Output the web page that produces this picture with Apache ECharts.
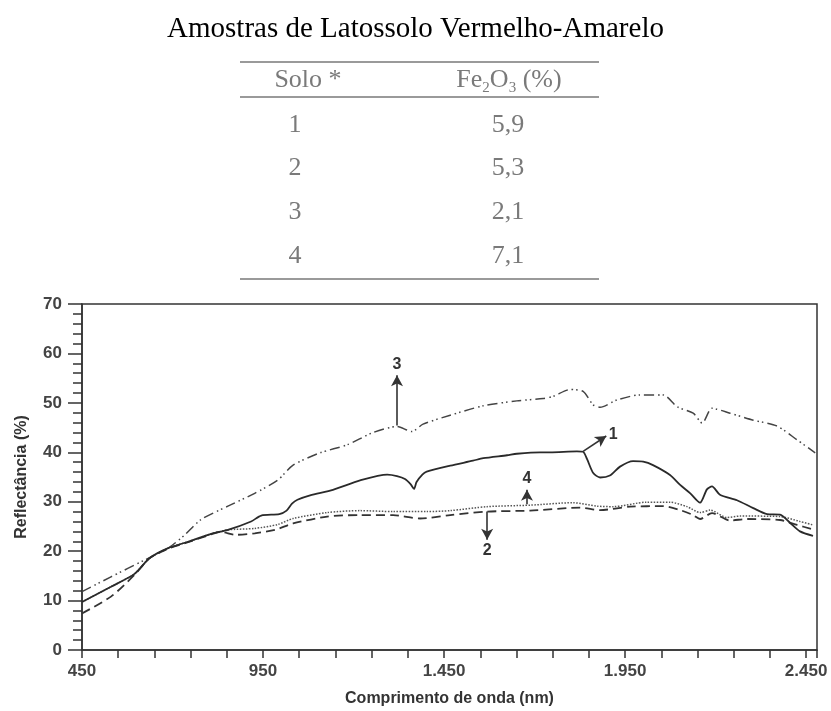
<!DOCTYPE html>
<html>
<head>
<meta charset="utf-8">
<script src="https://cdn.jsdelivr.net/npm/echarts@6/dist/echarts.min.js"></script>
<style>
html,body{margin:0;padding:0;background:#fff;}
#chart{width:831px;height:711px;}
</style>
</head>
<body>
<div id="chart"></div>
<script>
// ---- Data ----
const chartTitle = 'Amostras de Latossolo Vermelho-Amarelo';
const tableSolos = ['1', '2', '3', '4'];
const tableFe2O3 = ['5,9', '5,3', '2,1', '7,1'];

const xLabels = [450, 950, 1450, 1950, 2450];

// Solo 1 (solid)
const wl1 = [450,530,595,637,688,743,807,853,917,945,995,1015,1030,1045,1080,1143,1218,1293,1320,1342,1358,1367,1374,1390,1402,1467,1530,1558,1624,1651,1715,1743,1817,1834,1845,1862,1881,1908,1936,1972,2000,2027,2074,2102,2130,2157,2176,2190,2212,2259,2304,2342,2378,2406,2433,2469];
const refl1 = [9.7,12.8,15.4,18.6,20.6,21.9,23.5,24.3,26.0,27.2,27.5,28.2,29.6,30.4,31.3,32.4,34.3,35.5,35.2,34.6,33.5,32.6,34.0,35.5,36.1,37.3,38.3,38.8,39.4,39.7,40.0,40.0,40.2,40.1,38.6,35.8,34.9,35.3,37.1,38.2,38.1,37.4,35.4,33.4,31.7,29.8,32.5,33.1,31.4,30.3,28.7,27.5,27.4,25.7,24.0,23.1];

// Solo 2 (dashed)
const wl2 = [450,530,595,637,688,743,807,834,873,927,983,1033,1127,1218,1309,1384,1467,1569,1688,1826,1881,1964,2055,2102,2138,2157,2190,2240,2287,2378,2425,2469];
const refl2 = [7.4,10.8,15.2,18.6,20.5,21.8,23.4,23.9,23.3,23.6,24.3,25.6,27.0,27.3,27.3,26.6,27.3,28.0,28.2,28.8,28.3,29.0,29.1,28.3,27.3,26.5,27.7,26.2,26.5,26.3,25.3,24.4];

// Solo 3 (dash-dot-dot)
const wl3 = [450,530,623,688,734,779,853,927,991,1033,1108,1182,1254,1320,1361,1392,1467,1558,1651,1724,1751,1798,1834,1862,1881,1928,1991,2055,2094,2138,2163,2190,2240,2304,2370,2425,2475];
const refl3 = [11.8,14.8,18.2,20.6,23.3,26.4,29.1,31.7,34.4,37.4,39.9,41.5,44.0,45.2,44.2,45.7,47.5,49.4,50.4,50.9,51.3,52.7,52.3,49.6,49.1,50.6,51.6,51.6,49.2,47.9,45.9,48.9,47.9,46.5,45.3,42.5,39.9];

// Solo 4 (dotted)
const wl4 = [450,530,595,637,688,743,807,853,927,991,1033,1127,1218,1309,1403,1467,1569,1688,1806,1873,1917,2009,2074,2121,2157,2185,2231,2268,2378,2433,2469];
const refl4 = [9.7,12.8,15.4,18.6,20.6,21.9,23.5,24.3,24.6,25.4,26.6,27.8,28.2,28.0,28.0,28.2,29.0,29.3,29.8,29.1,29.0,29.9,29.9,29.0,27.8,28.3,26.8,27.1,27.0,26.0,25.3];

// Arrow annotations
const arrowLabels = ['1', '2', '3', '4'];
const arrowFromWl = [1834, 1569, 1320, 1679];
const arrowFromRefl = [40.2, 28.0, 45.4, 29.5];
const arrowToWl = [1898, 1569, 1320, 1679];
const arrowToRefl = [43.3, 22.3, 55.6, 32.4];

// ---- Build ----
const X0 = 450; // axis origin (ticks counted from here)
function fmtThousands(n) {
  return String(n).replace(/\B(?=(\d{3})+(?!\d))/g, '.');
}
function pairs(wl, r) { return wl.map((w, i) => [w - X0, r[i]]); }
function arrow(i) {
  return {
    silent: true,
    symbol: ['none', 'arrow'],
    symbolSize: [9, 11],
    animation: false,
    lineStyle: { color: '#333', width: 1.6, type: 'solid' },
    label: {
      show: true, position: 'end', distance: 3,
      formatter: arrowLabels[i],
      color: '#333', fontFamily: 'Liberation Sans', fontWeight: 'bold', fontSize: 16
    },
    emphasis: { disabled: true },
    data: [[
      { coord: [arrowFromWl[i] - X0, arrowFromRefl[i]] },
      { coord: [arrowToWl[i] - X0, arrowToRefl[i]] }
    ]]
  };
}

const chart = echarts.init(document.getElementById('chart'), null, { renderer: 'canvas' });

const serifFont = 'Liberation Serif';
const tblColor = '#7a7a7a';
const tblLines = [62, 97, 279];
const tblRowY = [125, 168, 212, 256];

const graphics = [];
tblLines.forEach(y => graphics.push({
  type: 'line', shape: { x1: 240, y1: y, x2: 599, y2: y },
  style: { stroke: '#9a9a9a', lineWidth: 2 }, silent: true
}));
graphics.push({
  type: 'text', x: 308, y: 80,
  style: { text: 'Solo *', font: '26px ' + serifFont, fill: tblColor, textAlign: 'center', textVerticalAlign: 'middle' }
});
graphics.push({
  type: 'text', x: 509, y: 80,
  style: {
    text: 'Fe{s|2}O{s|3} (%)',
    fill: tblColor, fontFamily: serifFont, fontSize: 26,
    textAlign: 'center', textVerticalAlign: 'middle',
    rich: {
      s: { fontSize: 15, fontFamily: serifFont, fill: tblColor, padding: [16, 0, 0, 0] }
    }
  }
});
tableSolos.forEach((s, i) => {
  graphics.push({
    type: 'text', x: 295, y: tblRowY[i],
    style: { text: s, font: '26px ' + serifFont, fill: tblColor, textAlign: 'center', textVerticalAlign: 'middle' }
  });
  graphics.push({
    type: 'text', x: 508, y: tblRowY[i],
    style: { text: tableFe2O3[i], font: '26px ' + serifFont, fill: tblColor, textAlign: 'center', textVerticalAlign: 'middle' }
  });
});

const lineCol = '#333';
const option = {
  animation: false,
  backgroundColor: '#fff',
  title: {
    text: chartTitle,
    left: 'center', top: 10,
    textStyle: { fontFamily: serifFont, fontSize: 29, fontWeight: 'normal', color: '#000' }
  },
  graphic: graphics,
  grid: {
    left: 82, right: 14, top: 304, bottom: 61,
    show: true, borderColor: lineCol, borderWidth: 1.5, backgroundColor: 'transparent'
  },
  xAxis: {
    type: 'value',
    min: 0, max: 2030, interval: 100,
    name: 'Comprimento de onda (nm)',
    nameLocation: 'middle', nameGap: 41,
    nameTextStyle: { fontFamily: 'Liberation Sans', fontWeight: 'bold', fontSize: 16, color: '#333' },
    axisLine: { lineStyle: { color: lineCol, width: 1.5 } },
    axisTick: { show: true, inside: false, length: 8, lineStyle: { color: lineCol, width: 1.5 } },
    splitLine: { show: false },
    axisLabel: {
      margin: 13, hideOverlap: false,
      fontFamily: 'Liberation Sans', fontWeight: 'bold', fontSize: 17, color: '#444',
      formatter: v => (xLabels.indexOf(v + X0) >= 0 ? fmtThousands(v + X0) : '')
    }
  },
  yAxis: {
    type: 'value',
    min: 0, max: 70, interval: 10,
    name: 'Reflectância (%)',
    nameLocation: 'middle', nameGap: 52,
    nameTextStyle: { fontFamily: 'Liberation Sans', fontWeight: 'bold', fontSize: 16, color: '#333' },
    axisLine: { show: true, lineStyle: { color: lineCol, width: 1.5 } },
    axisTick: { show: true, inside: false, length: 14, lineStyle: { color: lineCol, width: 1.5 } },
    minorTick: { show: true, splitNumber: 5, length: 9, lineStyle: { color: lineCol, width: 1.5 } },
    splitLine: { show: false },
    axisLabel: {
      margin: 20,
      fontFamily: 'Liberation Sans', fontWeight: 'bold', fontSize: 17, color: '#444'
    }
  },
  series: [
    {
      name: 'Solo 4', type: 'line', data: pairs(wl4, refl4),
      showSymbol: false, smooth: 0.25, z: 2,
      lineStyle: { color: '#555', width: 1.5, type: [1.5, 1.5] },
      markLine: arrow(3)
    },
    {
      name: 'Solo 2', type: 'line', data: pairs(wl2, refl2),
      showSymbol: false, smooth: 0.25, z: 3,
      lineStyle: { color: '#333', width: 1.8, type: [9, 5] },
      markLine: arrow(1)
    },
    {
      name: 'Solo 3', type: 'line', data: pairs(wl3, refl3),
      showSymbol: false, smooth: 0.25, z: 3,
      lineStyle: { color: '#444', width: 1.5, type: [10, 4, 1.5, 3, 1.5, 4] },
      markLine: arrow(2)
    },
    {
      name: 'Solo 1', type: 'line', data: pairs(wl1, refl1),
      showSymbol: false, smooth: 0.25, z: 4,
      lineStyle: { color: '#2a2a2a', width: 1.8, type: 'solid' },
      markLine: arrow(0)
    }
  ]
};
chart.setOption(option);
</script>
</body>
</html>
